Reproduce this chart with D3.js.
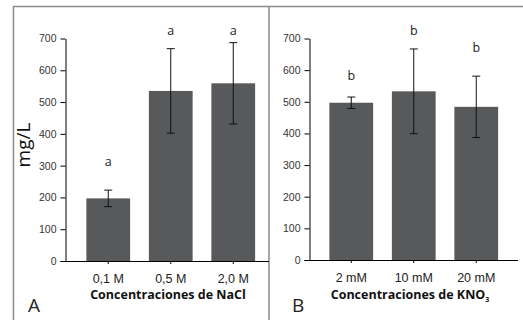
<!DOCTYPE html>
<html>
<head>
<meta charset="utf-8">
<script src="https://cdn.jsdelivr.net/npm/d3@7"></script>
<style>
  body { margin: 0; background: #fff; }
  svg { display: block; font-family: "Open Sans", "Noto Sans", sans-serif; }
</style>
</head>
<body>
<figure id="chart" style="margin:0"></figure>
<script>
// panel A - NaCl
const catsA = ["0,1 M", "0,5 M", "2,0 M"];
const meansA = [197, 535, 559];
const sdA = [26, 133, 128];
const lettersA = ["a", "a", "a"];
const letterYA = [300, 710, 710];

// panel B - KNO3
const catsB = ["2 mM", "10 mM", "20 mM"];
const meansB = [497, 533, 484];
const sdB = [18, 134, 97];
const lettersB = ["b", "b", "b"];
const letterYB = [570, 710, 657];

const yTicks = [0, 100, 200, 300, 400, 500, 600, 700];

const width = 523, height = 320;
const barColor = "#58595b";
const frameColor = "#8c8c8c";

const svg = d3.select("figure#chart")
  .append("svg")
  .attr("width", width)
  .attr("height", height);

// frame around both panels
svg.append("path")
  .attr("d", "M13.5,320 V6.5 H523 M269,6.5 V320")
  .attr("fill", "none")
  .attr("stroke", frameColor)
  .attr("stroke-width", 1.5);

function drawPanel(opt) {
  const y = d3.scaleLinear().domain([0, 700]).range([opt.y0, opt.y700]);
  const x = d3.scaleBand()
    .domain(opt.cats)
    .range([opt.bandStart, opt.bandStart + 187.5])
    .paddingInner(0.3)
    .paddingOuter(0.15);

  const g = svg.append("g");

  // y axis
  const yAxis = g.append("g")
    .attr("transform", "translate(" + opt.axisX + ",0)")
    .call(d3.axisLeft(y).tickValues(yTicks).tickSize(5).tickSizeOuter(0));
  yAxis.select(".domain").attr("stroke", "#000");
  yAxis.selectAll(".tick line").attr("stroke", "#000");
  yAxis.selectAll("text")
    .attr("x", -9)
    .attr("fill", "#333")
    .style("font-size", "10.5px");

  // bars
  g.selectAll("rect.bar")
    .data(opt.means)
    .enter()
    .append("rect")
    .attr("class", "bar")
    .attr("x", (d, i) => x(opt.cats[i]))
    .attr("y", d => y(d))
    .attr("width", x.bandwidth())
    .attr("height", d => opt.y0 - y(d))
    .attr("fill", barColor);

  // x axis
  const xAxis = g.append("g")
    .attr("transform", "translate(0," + opt.y0 + ")")
    .call(d3.axisBottom(x).tickSize(3).tickSizeOuter(0));
  xAxis.select(".domain")
    .attr("d", "M" + (opt.axisX - 5) + ",0.5H" + opt.axisEnd)
    .attr("stroke", "#000");
  xAxis.selectAll(".tick line").attr("stroke", "#000");
  xAxis.selectAll("text")
    .attr("y", 13)
    .attr("fill", "#222")
    .style("font-size", "12.5px");

  // error bars
  const cap = 4;
  const err = g.selectAll("g.err")
    .data(opt.means)
    .enter()
    .append("g")
    .attr("class", "err")
    .attr("stroke", "#111")
    .attr("stroke-width", 1);
  err.append("line")
    .attr("x1", (d, i) => x(opt.cats[i]) + x.bandwidth() / 2)
    .attr("x2", (d, i) => x(opt.cats[i]) + x.bandwidth() / 2)
    .attr("y1", (d, i) => y(d + opt.sd[i]))
    .attr("y2", (d, i) => y(d - opt.sd[i]));
  [1, -1].forEach(s => {
    err.append("line")
      .attr("x1", (d, i) => x(opt.cats[i]) + x.bandwidth() / 2 - cap)
      .attr("x2", (d, i) => x(opt.cats[i]) + x.bandwidth() / 2 + cap)
      .attr("y1", (d, i) => y(d + s * opt.sd[i]))
      .attr("y2", (d, i) => y(d + s * opt.sd[i]));
  });

  // significance letters
  g.selectAll("text.letter")
    .data(opt.letters)
    .enter()
    .append("text")
    .attr("class", "letter")
    .attr("x", (d, i) => x(opt.cats[i]) + x.bandwidth() / 2)
    .attr("y", (d, i) => y(opt.letterY[i]))
    .attr("text-anchor", "middle")
    .attr("fill", "#222")
    .style("font-size", "12.5px")
    .text(d => d);

  // axis title
  const title = g.append("text")
    .attr("x", opt.titleX)
    .attr("y", 298.5)
    .attr("text-anchor", "middle")
    .attr("fill", "#111")
    .style("font-size", "12.5px")
    .style("font-weight", "bold");
  title.append("tspan").text(opt.title);
  if (opt.sub) {
    title.append("tspan")
      .attr("dy", 3)
      .style("font-size", "7px")
      .text(opt.sub);
  }

  // panel letter
  g.append("text")
    .attr("x", opt.panelX)
    .attr("y", 312)
    .attr("fill", "#222")
    .style("font-size", "19px")
    .text(opt.panel);
}

drawPanel({
  cats: catsA, means: meansA, sd: sdA, letters: lettersA, letterY: letterYA,
  axisX: 65.5, axisEnd: 269, bandStart: 77, y0: 261, y700: 38.5,
  title: "Concentraciones de NaCl", titleX: 168, panel: "A", panelX: 28
});

drawPanel({
  cats: catsB, means: meansB, sd: sdB, letters: lettersB, letterY: letterYB,
  axisX: 309.5, axisEnd: 518, bandStart: 320, y0: 260, y700: 38.5,
  title: "Concentraciones de KNO", sub: "3", titleX: 410, panel: "B", panelX: 292
});

// y axis title (panel A)
svg.append("text")
  .attr("transform", "translate(30,145) rotate(-90)")
  .attr("text-anchor", "middle")
  .attr("fill", "#111")
  .style("font-size", "19px")
  .text("mg/L");
</script>
</body>
</html>
